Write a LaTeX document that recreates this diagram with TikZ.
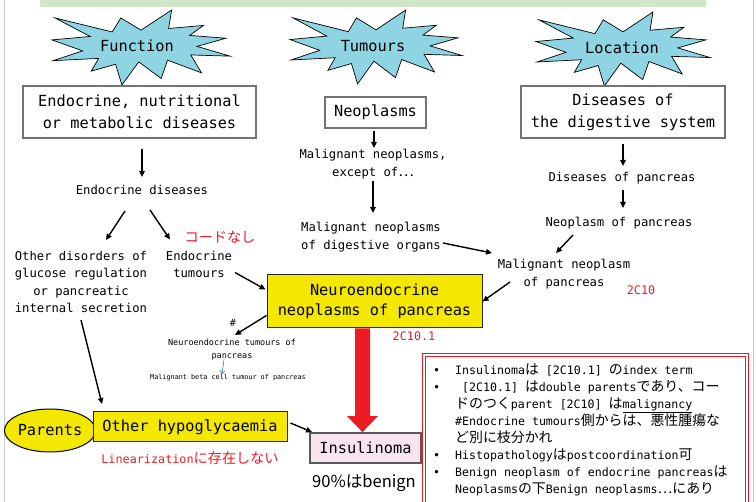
\documentclass[tikz,border=0pt]{standalone}
\usepackage{fontspec}
\setmainfont{DejaVu Sans Mono}
\newfontfamily\jpfont{Noto Sans CJK JP}[Scale=1.2]
\newcommand\jpn[1]{{\jpfont #1}}
\usepackage{xcolor}
\usepackage{tikz}
\usetikzlibrary{shapes, arrows.meta, positioning}
\definecolor{burstblue}{RGB}{143,212,227}
\definecolor{nenyellow}{RGB}{245,232,0}
\definecolor{codered}{RGB}{237,28,36}
\definecolor{insulpink}{RGB}{248,228,238}
\definecolor{titlegreen}{RGB}{208,230,200}
\definecolor{framegray}{RGB}{200,200,200}
\definecolor{betablue}{RGB}{68,114,196}
\newcommand\burst[4]{%
  \begin{scope}[shift={(#1,#2)}, xscale=#3/216, yscale=#4/216]
    \draw[burstline] (108,58) -- (145.22,0) -- (141.55,53.25) -- (183.8,44.57) -- (167.02,73.15) -- (210.97,81.37) -- (176.07,104.75) -- (216,132.9) -- (168.37,129.42) -- (181.45,180.95) -- (140.2,144.57) -- (132.47,197.37) -- (105.32,149.35) -- (84.85,216) -- (77.15,156.27) -- (47.62,176.17) -- (56.67,139.37) -- (1.35,145.87) -- (37.22,117.75) -- (0,86.15) -- (46.27,76.17) -- (3.7,22.95) -- (73.12,63.2) -- (83.52,22.95) -- cycle;
  \end{scope}}

\begin{document}
\begin{tikzpicture}[x=1pt, y=-1pt,
            burstline/.style={draw=black, line width=0.7pt, fill=burstblue},
            starlabel/.style={font=\fontsize{15.3}{18}\selectfont, inner sep=1pt},
            catbox/.style={draw=black!55, line width=1.3pt, fill=white, align=center, font=\fontsize{15.3}{22}\selectfont, inner sep=0pt},
            ybox/.style={draw=black!85, line width=1pt, fill=nenyellow, align=center, font=\fontsize{15.3}{20}\selectfont, inner sep=0pt},
            pbox/.style={draw=black!65, line width=1.8pt, fill=insulpink, font=\fontsize{15.3}{20}\selectfont, inner sep=0pt},
            lbl/.style={align=center, font=\fontsize{12.2}{17.5}\selectfont, inner sep=1pt},
            smalllbl/.style={align=center, font=\fontsize{8.5}{13}\selectfont, inner sep=1pt},
            tinylbl/.style={font=\fontsize{6.8}{9}\selectfont, inner sep=1pt},
            redlbl/.style={text=codered, font=\fontsize{11.8}{15}\selectfont, inner sep=1pt},
            notebox/.style={draw=codered, line width=0.9pt, double=white, double distance=2pt},
            arrow/.style={-{Triangle[length=6pt,width=5.5pt]}, line width=1.4pt},
            bluearrow/.style={-{Straight Barb[length=3pt,width=5pt]}, line width=0.6pt, draw=betablue}]

            \useasboundingbox (0,0) rectangle (756,502);
            \clip (0,0) rectangle (756,502);
            \fill[titlegreen] (40,0) rectangle (706,7);
            \draw[framegray, line width=0.8pt] (4,0) -- (4,502);
            \draw[framegray, line width=0.8pt] (753,0) -- (753,502);

            \burst{52}{10}{178}{75}
            \burst{290}{10}{172}{74}
            \burst{536}{12}{174}{74}
            \node[starlabel] (function) at (137,46) {Function};
            \node[starlabel] (tumours) at (373,46) {Tumours};
            \node[starlabel] (location) at (622,48) {Location};

            \node[catbox, minimum width=233pt, minimum height=52pt] (endo) at (139.5,112) {Endocrine, nutritional\\or metabolic diseases};
            \node[catbox, minimum width=101pt, minimum height=31pt] (neo) at (375.5,112.5) {Neoplasms};
            \node[catbox, minimum width=204pt, minimum height=52pt] (dig) at (623,112) {Diseases of\\the digestive system};

            \node[lbl] (endodis) at (142,190) {Endocrine diseases};
            \node[lbl] (otherdis) at (81,282) {Other disorders of\\glucose regulation\\or pancreatic\\internal secretion};
            \node[lbl] (endotum) at (199,264.5) {Endocrine\\tumours};
            \node[redlbl] (nocode) at (220,237) {\jpn{コードなし}};
            \node[lbl] (malexc) at (373,164) {Malignant neoplasms,\\except of\jpn{…}};
            \node[lbl] (maldig) at (371,237) {Malignant neoplasms\\of digestive organs};
            \node[lbl] (dispan) at (622,178) {Diseases of pancreas};
            \node[lbl] (neopan) at (619,223) {Neoplasm of pancreas};
            \node[lbl] (malpan) at (564,274) {Malignant neoplasm\\of pancreas};
            \node[redlbl] (code2c10) at (641,290) {2C10};

            \node[ybox, minimum width=215pt, minimum height=53pt] (nen) at (374.5,301.5) {Neuroendocrine\\neoplasms of pancreas};
            \node[redlbl] (code2c101) at (414,336) {2C10.1};
            \node[smalllbl, font=\fontsize{10}{12}\selectfont] (hash) at (233,323) {\#};
            \node[smalllbl] (nentum) at (232,349.5) {Neuroendocrine tumours of\\pancreas};
            \node[tinylbl] (beta) at (228,378) {Malignant beta cell tumour of pancreas};

            \node[ellipse, draw=black, line width=1pt, fill=nenyellow, minimum width=78pt, minimum height=43pt, inner sep=0pt, font=\fontsize{15.3}{18}\selectfont] (parents) at (50,430.5) {Parents};
            \node[ybox, minimum width=194pt, minimum height=30pt] (hypo) at (190,427) {Other hypoglycaemia};
            \node[redlbl] (linear) at (190,458) {Linearization\jpn{に存在しない}};
            \node[pbox, minimum width=111pt, minimum height=30pt] (insul) at (365.5,448) {Insulinoma};
            \node[inner sep=1pt, font=\jpfont\fontsize{13.8}{16}\selectfont] (benign) at (364,483) {90\%はbenign};

            \node[notebox, anchor=north west, minimum width=323pt, minimum height=170pt] (notes) at (423.5,354.5) {};
            \node[anchor=north west, inner sep=0pt, font=\fontsize{11.6}{17}\selectfont] (notetext) at (433,362.5) {%
              \begin{tabular}{@{}p{22pt}@{}l@{}}
              • & Insulinoma\jpn{は} [2C10.1] \jpn{の}index term\\
              • & \ [2C10.1] \jpn{は}double parents\jpn{であり、コー}\\
                & \jpn{ドのつく}parent [2C10] \jpn{は}\underline{malignancy}\\
                & \#Endocrine tumours\jpn{側からは、悪性腫瘍な}\\
                & \jpn{ど別に枝分かれ}\\
              • & Histopathology\jpn{は}postcoordination\jpn{可}\\
              • & Benign neoplasm of endocrine pancreas\jpn{は}\\
                & Neoplasms\jpn{の下}Benign neoplasms\jpn{…にあり}
              \end{tabular}};

            \draw[arrow] ([shift={(2.5,10)}]endo.south) -- ([shift={(0,-13)}]endodis.center);
            \draw[arrow] ([shift={(-17,21)}]endodis.center) -- ([shift={(25,-42)}]otherdis.center);
            \draw[arrow] ([shift={(8,20)}]endodis.center) -- ([shift={(-29,-25)}]endotum.center);
            \draw[arrow] ([shift={(36,8)}]endotum.center) -- ([shift={(-1,-12)}]nen.west);
            \draw[arrow] ([shift={(-1.5,2)}]neo.south) -- ([shift={(1,-16)}]malexc.center);
            \draw[arrow] ([shift={(0,17)}]malexc.center) -- ([shift={(2,-24)}]maldig.center);
            \draw[arrow] ([shift={(72,6)}]maldig.center) -- ([shift={(-72,-21)}]malpan.center);
            \draw[arrow] ([shift={(0,5)}]dig.south) -- ([shift={(1,-12)}]dispan.center);
            \draw[arrow] ([shift={(1,12)}]dispan.center) -- ([shift={(4,-15)}]neopan.center);
            \draw[arrow] ([shift={(-46,12)}]neopan.center) -- ([shift={(-8,-21)}]malpan.center);
            \draw[arrow] ([shift={(-54,8)}]malpan.center) -- (nen.east);
            \draw[arrow] ([shift={(0,14)}]nen.west) -- ([shift={(2,12)}]hash.center);
            \draw[bluearrow] ([shift={(-8,10)}]nentum.center) -- ([shift={(-6,-4)}]beta.center);
            \draw[arrow] ([shift={(0,38)}]otherdis.center) -- ([shift={(-88,-23)}]hypo.center);
            \draw[arrow] ([shift={(3,-4)}]hypo.east) -- ([shift={(3,0)}]insul.north west);
            \fill[codered] ([xshift=-19.5pt]nen.south) -- ([xshift=-4.5pt]nen.south) -- ([shift={(4.5,-16)}]insul.north) -- ([shift={(12.5,-16)}]insul.north) -- ([shift={(-3,0)}]insul.north) -- ([shift={(-18.5,-16)}]insul.north) -- ([shift={(-10.5,-16)}]insul.north) -- cycle;
        \end{tikzpicture}
\end{document}
